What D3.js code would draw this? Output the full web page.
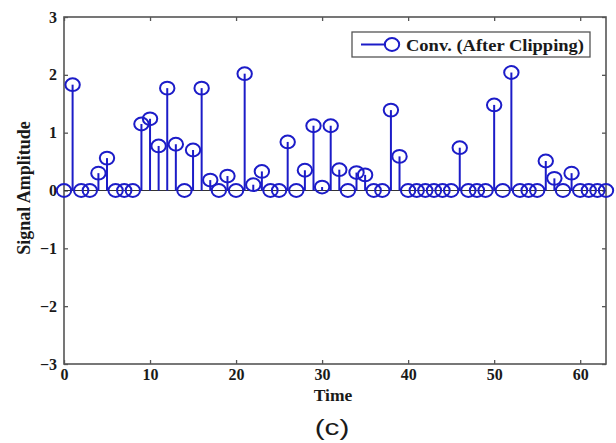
<!DOCTYPE html>
<html><head><meta charset="utf-8">
<script src="https://cdn.jsdelivr.net/npm/d3@7"></script>
<style>body{margin:0;background:#fff}</style>
</head><body>
<svg id="c" width="616" height="443"></svg>
<script>
const times = d3.range(0, 64);
const amplitudes = [0,1.83,0,0,0.30,0.56,0,0,0,1.15,1.24,0.77,1.77,0.80,0,0.70,
  1.77,0.18,0,0.25,0,2.02,0.10,0.33,0,0,0.84,0,0.35,1.12,0.06,1.12,
  0.36,0,0.31,0.27,0,0,1.39,0.59,0,0,0,0,0,0,0.74,0,
  0,0,1.48,0,2.04,0,0,0,0.51,0.21,0,0.30,0,0,0,0];
const xTicks = [0,10,20,30,40,50,60];
const yTicks = [-3,-2,-1,0,1,2,3];
const legendLabel = "Conv. (After Clipping)";

const svg = d3.select("#c");
const m = {l:64, r:606, t:17, b:364};
const x = d3.scaleLinear().domain([0,63]).range([m.l, m.r]);
const y = d3.scaleLinear().domain([-3,3]).range([m.b, m.t]);
const blue = "#1c1cc8", axc = "#555";
const serif = "'Liberation Serif','Times New Roman',serif";

// axes
const gx = svg.append("g").attr("transform",`translate(0,${m.b})`)
  .call(d3.axisBottom(x).tickValues(xTicks).tickSize(-4).tickPadding(5));
const gxt = svg.append("g").attr("transform",`translate(0,${m.t})`)
  .call(d3.axisTop(x).tickValues(xTicks).tickSize(-4).tickFormat(""));
const gy = svg.append("g").attr("transform",`translate(${m.l},0)`)
  .call(d3.axisLeft(y).tickValues(yTicks).tickSize(-4).tickPadding(7).tickFormat(d=>d<0?"\u2212"+(-d):d));
const gyr = svg.append("g").attr("transform",`translate(${m.r},0)`)
  .call(d3.axisRight(y).tickValues(yTicks).tickSize(-4).tickFormat(""));
[gx,gxt,gy,gyr].forEach(g=>{
  g.select(".domain").remove();
  g.selectAll("line").attr("stroke",axc).attr("stroke-width",1.3);
  g.selectAll("text").attr("font-family",serif).attr("font-weight","bold")
   .attr("font-size",16).attr("fill","#1a1a1a");
});
svg.append("rect").attr("x",m.l).attr("y",m.t).attr("width",m.r-m.l).attr("height",m.b-m.t)
  .attr("fill","none").attr("stroke",axc).attr("stroke-width",1.6);

// baseline
svg.append("line").attr("x1",m.l).attr("x2",m.r).attr("y1",y(0)).attr("y2",y(0))
  .attr("stroke","#333").attr("stroke-width",1.2);

// stems
svg.append("g").selectAll("line").data(times).join("line")
  .attr("x1",d=>x(d)).attr("x2",d=>x(d))
  .attr("y1",y(0)).attr("y2",d=>y(amplitudes[d]))
  .attr("stroke",blue).attr("stroke-width",2);
svg.append("g").selectAll("ellipse").data(times).join("ellipse")
  .attr("cx",d=>x(d)).attr("cy",d=>y(amplitudes[d])).attr("rx",7.2).attr("ry",6.4)
  .attr("fill","none").attr("stroke",blue).attr("stroke-width",2);

// legend
const lg = svg.append("g");
lg.append("rect").attr("x",352).attr("y",32).attr("width",238).attr("height",25)
  .attr("fill","#fff").attr("stroke",axc).attr("stroke-width",1.3);
lg.append("line").attr("x1",361).attr("x2",386).attr("y1",44.5).attr("y2",44.5)
  .attr("stroke",blue).attr("stroke-width",2);
lg.append("ellipse").attr("cx",392).attr("cy",44.5).attr("rx",7.2).attr("ry",6.4)
  .attr("fill","none").attr("stroke",blue).attr("stroke-width",2);
lg.append("text").attr("x",406).attr("y",50.5).text(legendLabel)
  .attr("textLength",178).attr("lengthAdjust","spacingAndGlyphs")
  .attr("font-family",serif).attr("font-weight","bold").attr("font-size",17).attr("fill","#1a1a1a");

// labels
svg.append("text").attr("transform",`translate(30,188) rotate(-90)`)
  .attr("text-anchor","middle").text("Signal Amplitude")
  .attr("font-family",serif).attr("font-weight","bold").attr("font-size",18).attr("fill","#1a1a1a");
svg.append("text").attr("x",333).attr("y",401).attr("text-anchor","middle").text("Time")
  .attr("font-family",serif).attr("font-weight","bold").attr("font-size",17.5).attr("fill","#1a1a1a");
svg.append("text").attr("transform","translate(332,435) scale(1.35,1)").attr("text-anchor","middle").text("(c)")
  .attr("font-family","'Liberation Sans',Arial,sans-serif").attr("font-size",22).attr("fill","#1a1a1a");
</script>
</body></html>
